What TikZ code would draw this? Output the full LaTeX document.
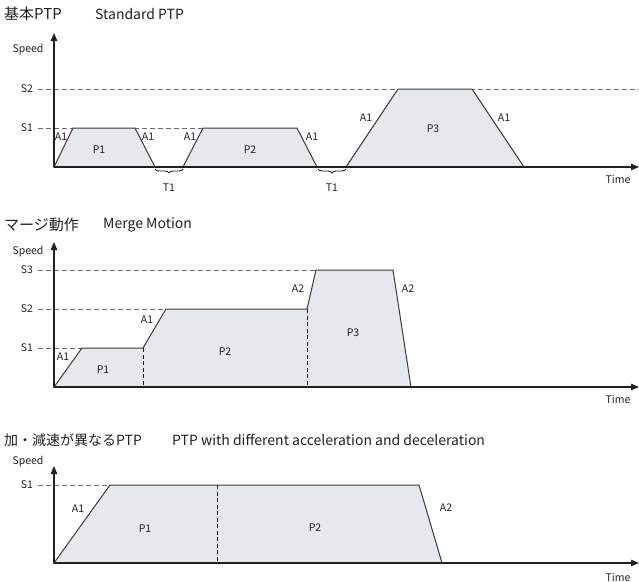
\documentclass[tikz,border=0pt]{standalone}
\usepackage{fontspec}
\setmainfont{Noto Sans CJK JP}
\usetikzlibrary{arrows.meta,decorations.pathreplacing}
\definecolor{axisc}{HTML}{231F20}
\definecolor{linec}{HTML}{3A3A3A}
\definecolor{dashc}{HTML}{6E6E6E}
\definecolor{fillc}{HTML}{E6E9EB}
\tikzset{
  axis/.style={draw=axisc, line width=1.2pt, -{Triangle[length=8pt,width=6.5pt]}},
  lvl/.style={draw=dashc, line width=1pt, dash pattern=on 5pt off 3pt},
  vdash/.style={draw=axisc, line width=0.9pt, dash pattern=on 4pt off 2.5pt},
  prof/.style={draw=linec, line width=1pt, fill=fillc, line join=miter},
  lab/.style={font=\fontsize{10.5}{12}\selectfont, text=axisc, inner sep=0pt},
  ttl/.style={font=\fontsize{14}{16}\selectfont, text=axisc, inner sep=0pt, anchor=west},
  jttl/.style={ttl, font=\fontsize{15}{17}\selectfont},
  brc/.style={draw=axisc, line width=0.9pt, decorate, decoration={brace, mirror, amplitude=4pt}},
}
\begin{document}
\begin{tikzpicture}[x=1pt,y=-1pt]
\useasboundingbox (0,0) rectangle (639,581);
% ---------------- Panel 1 ----------------
\node[jttl] (t1a) at (4,14) {基本PTP};
\node[ttl] (t1b) at (95,14) {Standard PTP};
\coordinate (o1) at (54,167);
\coordinate (y1) at (54,33);
\coordinate (x1) at (639,167);
\node[lab] (sp1) at (28,50) {Speed};
\node[lab] (s1a) at (27,128) {S1};
\node[lab] (s2a) at (27,89) {S2};
\coordinate (s1aE) at (297,128);
\coordinate (s2aE) at (639,89);
\draw[lvl] (38,128) -- (s1aE);
\draw[lvl] (38,89) -- (s2aE);
\draw[prof] (o1) -- (73,128) -- (135,128) -- (155,167) -- cycle;
\draw[prof] (183,167) -- (203,128) -- (297,128) -- (317,167) -- cycle;
\draw[prof] (346,167) -- (398,89) -- (472,89) -- (524,167) -- cycle;
\draw[axis] (o1) -- (x1);
\draw[axis] (o1) -- (y1);
\coordinate (b1s) at (155,169);
\coordinate (b1e) at (183,169);
\coordinate (b2s) at (318,169);
\coordinate (b2e) at (346,169);
\draw[brc] (b1s) -- (b1e);
\draw[brc] (b2s) -- (b2e);
\node[lab] (T1a) at (169,188) {T1};
\node[lab] (T1b) at (332,188) {T1};
\node[lab] (a11) at (61,137) {A1};
\node[lab] (a12) at (148,137) {A1};
\node[lab] (a13) at (190,137) {A1};
\node[lab] (a14) at (312,137) {A1};
\node[lab] (a15) at (366,118) {A1};
\node[lab] (a16) at (504,118) {A1};
\node[lab] (p11) at (99,150) {P1};
\node[lab] (p12) at (250,150) {P2};
\node[lab] (p13) at (433,129) {P3};
\node[lab] (tm1) at (618,179) {Time};
% ---------------- Panel 2 ----------------
\node[jttl] (t2a) at (4,225) {マージ動作};
\node[ttl] (t2b) at (103,225) {Merge Motion};
\coordinate (o2) at (54,387);
\coordinate (y2) at (54,242);
\coordinate (x2) at (639,387);
\node[lab] (sp2) at (28,252) {Speed};
\node[lab] (s1b) at (27,348) {S1};
\node[lab] (s2b) at (27,309) {S2};
\node[lab] (s3b) at (27,270) {S3};
\draw[lvl] (38,348) -- (82,348);
\draw[lvl] (38,309) -- (166,309);
\draw[lvl] (38,270) -- (316,270);
\draw[prof] (o2) -- (82,348) -- (143,348) -- (166,309) -- (307,309) -- (316,270) -- (393,270) -- (411,387) -- cycle;
\draw[vdash] (143,348) -- (143,387);
\draw[vdash] (307,309) -- (307,387);
\draw[axis] (o2) -- (x2);
\draw[axis] (o2) -- (y2);
\node[lab] (a21) at (63,357) {A1};
\node[lab] (a22) at (147,320) {A1};
\node[lab] (a23) at (298,289) {A2};
\node[lab] (a24) at (408,289) {A2};
\node[lab] (p21) at (103,370) {P1};
\node[lab] (p22) at (225,352) {P2};
\node[lab] (p23) at (353,333) {P3};
\node[lab] (tm2) at (618,399) {Time};
% ---------------- Panel 3 ----------------
\node[ttl] (t3a) at (4,440) {加・減速が異なるPTP};
\node[ttl] (t3b) at (172,440) {PTP with different acceleration and deceleration};
\coordinate (o3) at (54,563);
\coordinate (y3) at (54,466);
\coordinate (x3) at (639,563);
\node[lab] (sp3) at (28,462) {Speed};
\node[lab] (s1c) at (27,485) {S1};
\draw[lvl] (38,485) -- (110,485);
\draw[prof] (o3) -- (110,485) -- (419,485) -- (442,563) -- cycle;
\draw[vdash] (217,485) -- (217,563);
\draw[axis] (o3) -- (x3);
\draw[axis] (o3) -- (y3);
\node[lab] (a31) at (78,509) {A1};
\node[lab] (a32) at (446,508) {A2};
\node[lab] (p31) at (145,529) {P1};
\node[lab] (p32) at (315,528) {P2};
\node[lab] (tm3) at (618,577) {Time};
\end{tikzpicture}
\end{document}
